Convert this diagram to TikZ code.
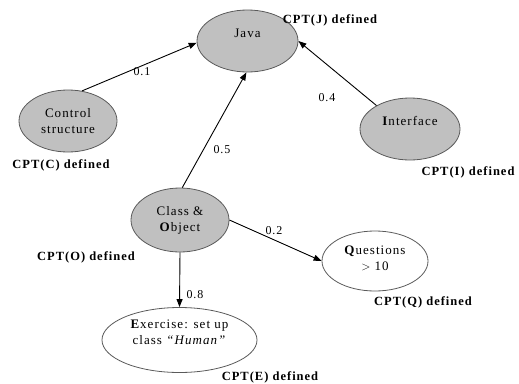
\documentclass[tikz,border=0pt]{standalone}
\usepackage{fontspec}
\setmainfont{Liberation Serif}[LetterSpace=8]
\usepackage{tikz}
\usetikzlibrary{shapes.geometric,arrows.meta}

\definecolor{nodegray}{RGB}{192,192,192}
\definecolor{rimgray}{RGB}{90,90,90}

\tikzset{
  concept/.style={ellipse,draw=rimgray,line width=0.8pt,inner sep=0pt,align=center,
    font=\fontsize{13}{16}\selectfont},
  known/.style={concept,fill=nodegray},
  raised/.style={text depth=#1},
  cpt/.style={font=\fontsize{12.5}{15}\selectfont\bfseries},
  weight/.style={font=\fontsize{12}{14}\selectfont},
  link/.style={line width=0.9pt,-{Triangle[length=8pt,width=6pt]}}
}

\begin{document}
\begin{tikzpicture}[x=1pt,y=-1pt]
\useasboundingbox (0,0) rectangle (519,383);

% The concepts
\node[known,raised=15pt,minimum width=101pt,minimum height=62pt] (java) at (247.5,41) {Java};
\node[known,minimum width=98pt,minimum height=62pt] (control) at (68,121) {Control\\structure};
\node[known,raised=16pt,minimum width=100pt,minimum height=62pt] (interface) at (410,129) {\textbf{I}nterface};
\node[known,minimum width=98pt,minimum height=64pt] (class) at (180,220) {Class \&\\\textbf{O}bject};
\node[concept,raised=6pt,minimum width=106pt,minimum height=60pt] (quest) at (375,261) {\textbf{Q}uestions\\$>$ 10};
\node[concept,raised=15pt,minimum width=155pt,minimum height=65pt] (exer) at (179.5,340) {\textbf{E}xercise: set up\\class \textit{“Human”}};

% The links
\draw[link] (control.65) -- (java.182);
\draw[link] (class.86) -- (java.268);
\draw[link] (interface.145) -- (java.east);
\draw[link] (class.east) -- (quest.west);
\draw[link] (class.south) -- (exer.north);

% The weights
\node[weight] (w1) at (142,72) {0.1};
\node[weight] (w5) at (222,150) {0.5};
\node[weight] (w4) at (327,98) {0.4};
\node[weight] (w2) at (274,231) {0.2};
\node[weight] (w8) at (195,295) {0.8};

% The tables
\node[cpt] (cptj) at (330,20) {CPT(J) defined};
\node[cpt] (cptc) at (61,165) {CPT(C) defined};
\node[cpt] (cpti) at (468,172) {CPT(I) defined};
\node[cpt] (cpto) at (86,257) {CPT(O) defined};
\node[cpt] (cptq) at (423,302) {CPT(Q) defined};
\node[cpt] (cpte) at (270,377) {CPT(E) defined};
\end{tikzpicture}
\end{document}
